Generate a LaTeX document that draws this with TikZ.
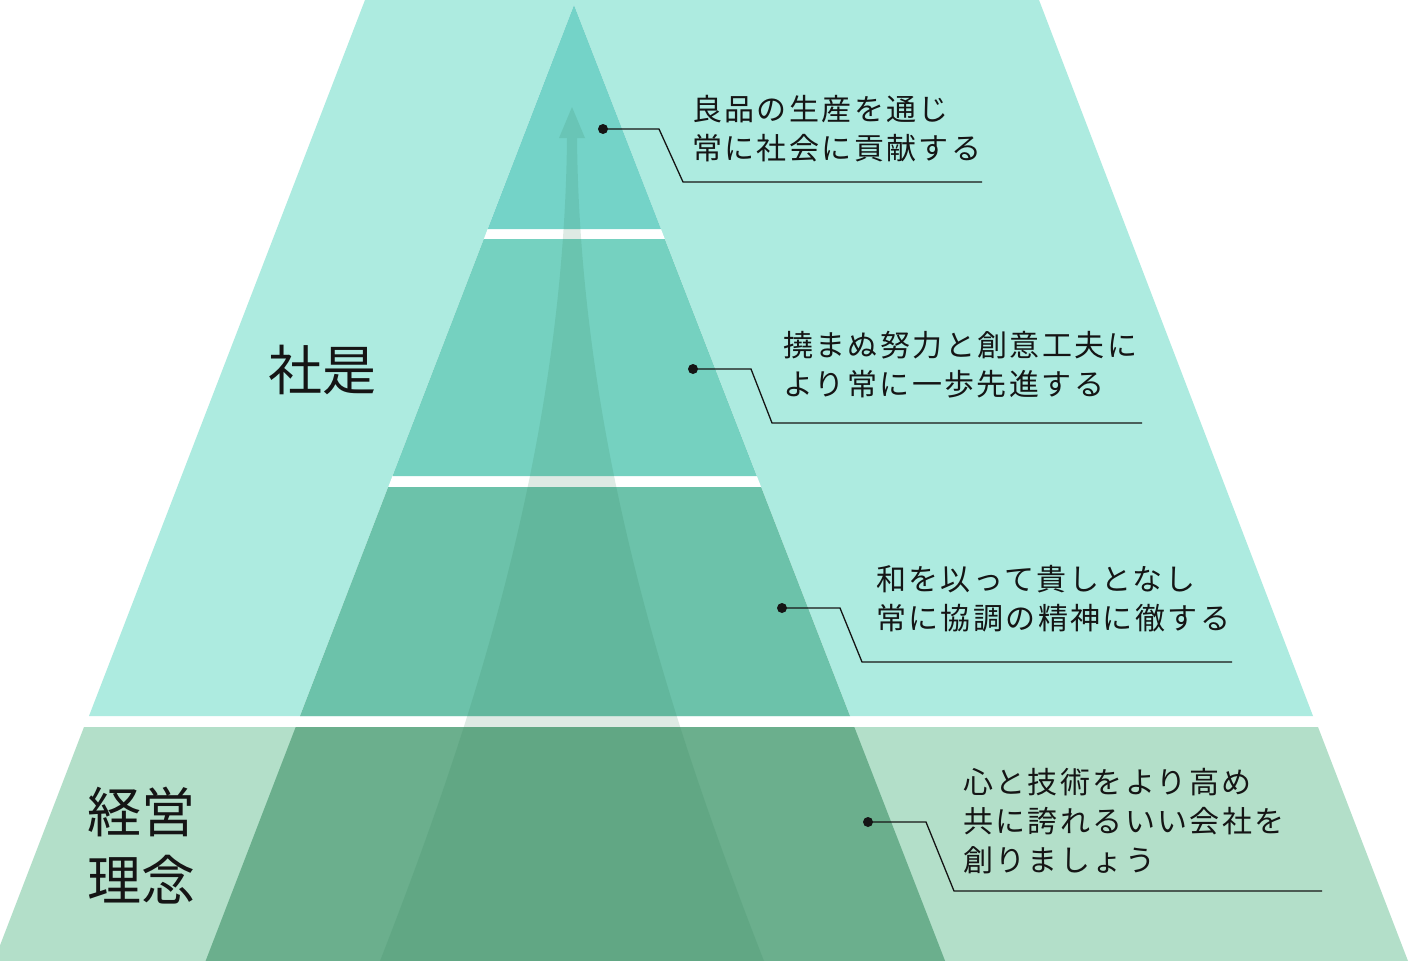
\documentclass[tikz,border=0pt]{standalone}
\usepackage{fontspec}
\newfontfamily\jp{Noto Sans CJK JP}[LetterSpace=8]
\newfontfamily\jpbig{Noto Sans CJK JP}
\definecolor{outerA}{HTML}{ADEBE0}
\definecolor{outerB}{HTML}{B3DFC9}
\definecolor{bandA}{HTML}{74D3C8}
\definecolor{bandB}{HTML}{75D1C0}
\definecolor{bandC}{HTML}{6CC2AA}
\definecolor{bandD}{HTML}{6BAF8D}
\definecolor{arrowc}{RGB}{50,130,90}
\definecolor{ink}{HTML}{151515}
\begin{document}
\begin{tikzpicture}[x=1pt,y=-1pt,
  leader/.style={line width=1.3pt, draw=ink},
  dotnode/.style={circle, fill=ink, inner sep=0pt, minimum size=10pt},
  lbl/.style={anchor=north west, inner sep=0pt, align=left, font=\jp\fontsize{30}{39}\selectfont, text=ink},
  big/.style={inner sep=0pt, align=left, text=ink, font=\jpbig\fontsize{54}{68}\selectfont}]
\useasboundingbox (0,0) rectangle (1409,961);
\clip (0,0) rectangle (1409,961);
\fill[white] (0,0) rectangle (1409,961);
% outer trapezoids
\fill[outerA] (365,0) -- (1039,0) -- (1313,716) -- (89,716) -- cycle;
\fill[outerB] (84,727) -- (1318,727) -- (1408,961) -- (-6,961) -- cycle;
% triangle bands
\fill[white] (574,5) -- (850,716) -- (300,716) -- cycle;
\fill[bandA] (574,5) -- (661,229) -- (487.7,229) -- cycle;
\fill[bandB] (483.8,239) -- (664.8,239) -- (756.8,476) -- (392.5,476) -- cycle;
\fill[bandC] (388.2,487) -- (761.1,487) -- (850,716) -- (300,716) -- cycle;
\fill[bandD] (295.7,727) -- (854.3,727) -- (945.1,961) -- (205.6,961) -- cycle;
% translucent arrow
\fill[arrowc, fill opacity=0.16] (572,107) -- (585,138) -- (577,138)
  .. controls (580,450) and (674,730) .. (764,961) -- (380,961)
  .. controls (470,730) and (564,450) .. (567,138) -- (559,138) -- cycle;
% big labels
\node[big] (shaze) at (322,370) {社是};
\node[big] (rinen) at (141,846) {経営\\理念};
% leader 1
\node[dotnode] (d1) at (603,129) {};
\coordinate (b1) at (659,129);
\coordinate (c1) at (683,182);
\coordinate (e1) at (982,182);
\draw[leader] (d1.center) -- (b1) -- (c1) -- (e1);
\node[lbl] (t1) at (692,95) {良品の生産を通じ\\常に社会に貢献する};
% leader 2
\node[dotnode] (d2) at (693,369) {};
\coordinate (b2) at (751,369);
\coordinate (c2) at (772,423);
\coordinate (e2) at (1142,423);
\draw[leader] (d2.center) -- (b2) -- (c2) -- (e2);
\node[lbl] (t2) at (783,331) {撓まぬ努力と創意工夫に\\より常に一歩先進する};
% leader 3
\node[dotnode] (d3) at (782,608) {};
\coordinate (b3) at (840,608);
\coordinate (c3) at (862,662);
\coordinate (e3) at (1232,662);
\draw[leader] (d3.center) -- (b3) -- (c3) -- (e3);
\node[lbl] (t3) at (876,565) {和を以って貴しとなし\\常に協調の精神に徹する};
% leader 4
\node[dotnode] (d4) at (868,822) {};
\coordinate (b4) at (926,822);
\coordinate (c4) at (954,891);
\coordinate (e4) at (1322,891);
\draw[leader] (d4.center) -- (b4) -- (c4) -- (e4);
\node[lbl] (t4) at (963,768) {心と技術をより高め\\共に誇れるいい会社を\\創りましょう};
\end{tikzpicture}
\end{document}
